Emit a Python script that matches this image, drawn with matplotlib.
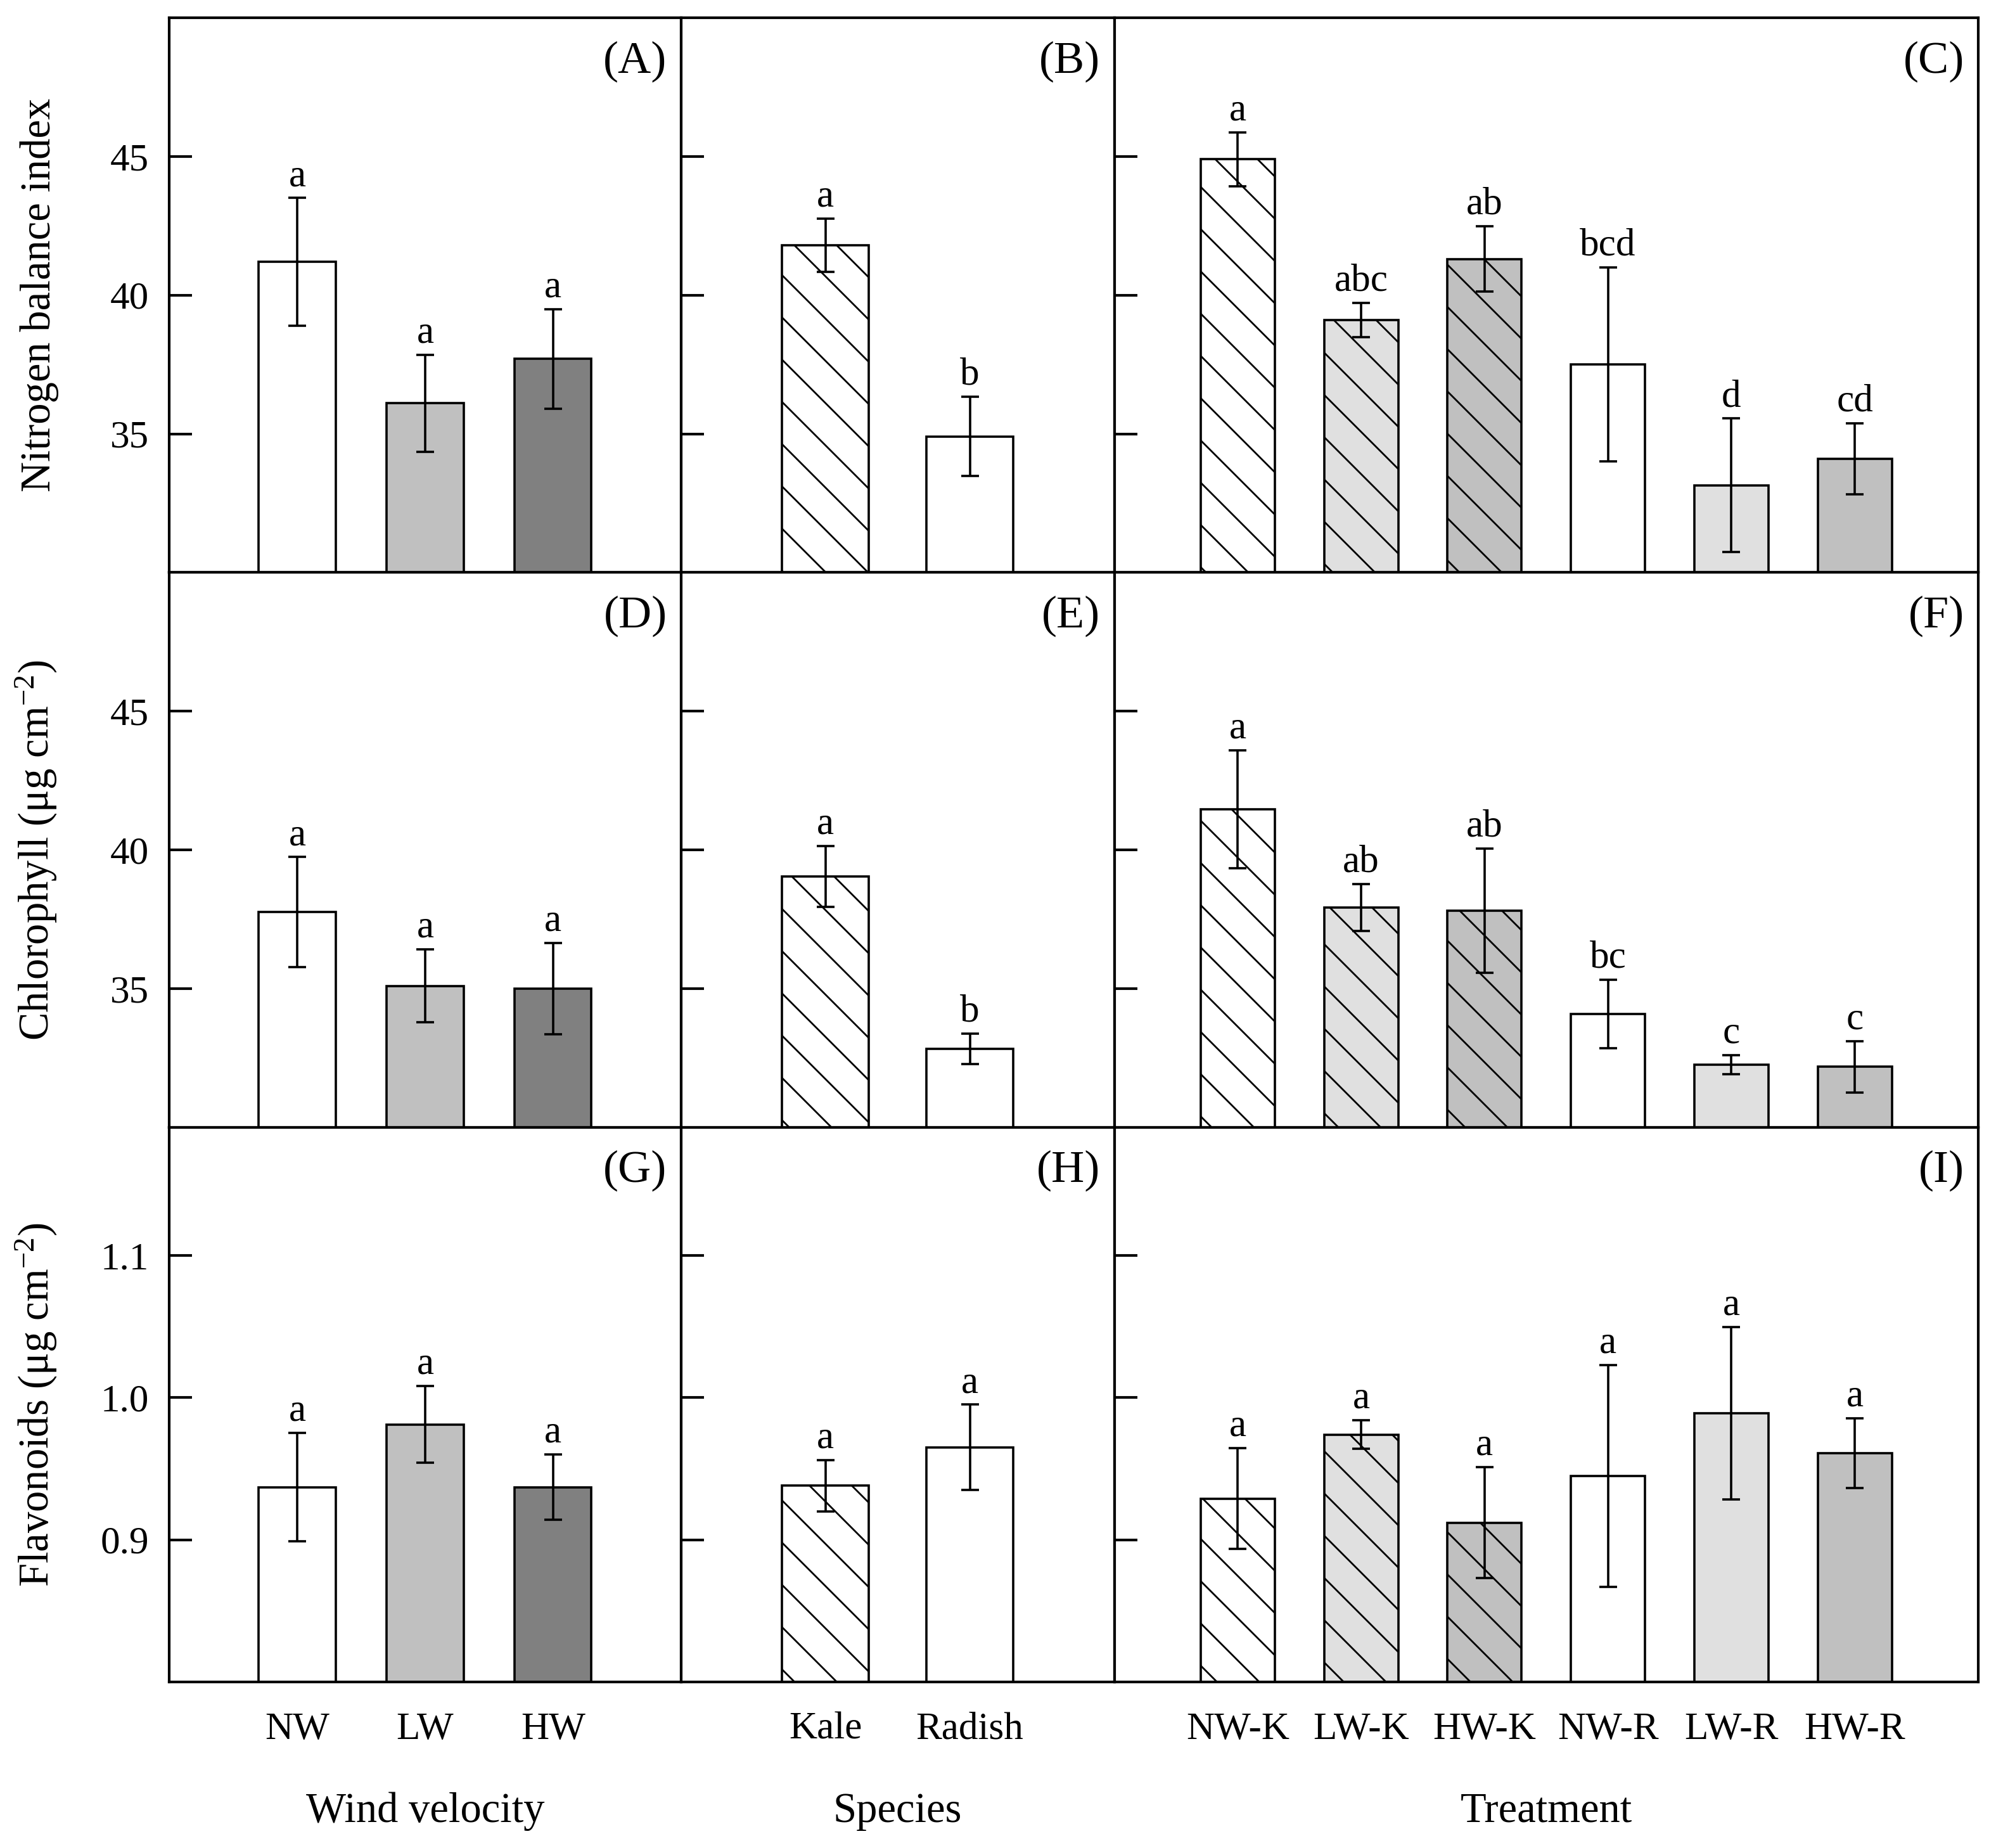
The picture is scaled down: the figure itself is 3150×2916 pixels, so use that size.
import numpy as np
import matplotlib
matplotlib.use('Agg')
import matplotlib.pyplot as plt

# fonts: Times-like serif everywhere
plt.rcParams['font.family'] = ['Liberation Serif', 'DejaVu Serif']
plt.rcParams['mathtext.fontset'] = 'custom'
plt.rcParams['mathtext.rm'] = 'Liberation Serif'
plt.rcParams['mathtext.it'] = 'Liberation Serif:italic'
plt.rcParams['hatch.linewidth'] = 0.5
plt.rcParams['hatch.color'] = 'black'

# ---- categories ----
wind_labels = ['NW', 'LW', 'HW']
species_labels = ['Kale', 'Radish']
treat_labels = ['NW-K', 'LW-K', 'HW-K', 'NW-R', 'LW-R', 'HW-R']

# ---- nitrogen balance index ----
nbi_wind = [41.2, 36.1, 37.7]
nbi_wind_err = [2.3, 1.75, 1.8]
nbi_wind_let = ['a', 'a', 'a']
nbi_species = [41.8, 34.9]
nbi_species_err = [0.96, 1.43]
nbi_species_let = ['a', 'b']
nbi_treat = [44.9, 39.1, 41.3, 37.5, 33.15, 34.1]
nbi_treat_err = [0.97, 0.62, 1.18, 3.5, 2.4, 1.28]
nbi_treat_let = ['a', 'abc', 'ab', 'bcd', 'd', 'cd']

# ---- chlorophyll ----
chl_wind = [37.76, 35.1, 35.0]
chl_wind_err = [1.98, 1.32, 1.65]
chl_wind_let = ['a', 'a', 'a']
chl_species = [39.05, 32.83]
chl_species_err = [1.1, 0.55]
chl_species_let = ['a', 'b']
chl_treat = [41.47, 37.92, 37.81, 34.08, 32.25, 32.18]
chl_treat_err = [2.12, 0.84, 2.23, 1.24, 0.34, 0.93]
chl_treat_let = ['a', 'ab', 'ab', 'bc', 'c', 'c']

# ---- flavonoids ----
flav_wind = [0.937, 0.981, 0.937]
flav_wind_err = [0.038, 0.027, 0.023]
flav_wind_let = ['a', 'a', 'a']
flav_species = [0.938, 0.965]
flav_species_err = [0.018, 0.030]
flav_species_let = ['a', 'a']
flav_treat = [0.929, 0.974, 0.912, 0.945, 0.989, 0.961]
flav_treat_err = [0.0355, 0.010, 0.039, 0.078, 0.0605, 0.0245]
flav_treat_let = ['a', 'a', 'a', 'a', 'a', 'a']

panel_tags = ['(A)', '(B)', '(C)', '(D)', '(E)', '(F)', '(G)', '(H)', '(I)']
col_xlabels = ['Wind velocity', 'Species', 'Treatment']
row_ylabels = ['Nitrogen balance index',
               'Chlorophyll (μg cm$^{-2}$)',
               'Flavonoids (μg cm$^{-2}$)']

# fills / hatches per column
col_labels = [wind_labels, species_labels, treat_labels]
col_fills = [['white', '#c0c0c0', '#808080'],
             ['white', 'white'],
             ['white', '#e0e0e0', '#c0c0c0', 'white', '#e0e0e0', '#c0c0c0']]
col_hatch = [['', '', ''],
             ['\\\\', ''],
             ['\\\\', '\\\\', '\\\\', '', '', '']]

rows = [
    dict(ylim=(30, 50), ticks=[35, 40, 45], fmt='{:.0f}',
         data=[(nbi_wind, nbi_wind_err, nbi_wind_let),
               (nbi_species, nbi_species_err, nbi_species_let),
               (nbi_treat, nbi_treat_err, nbi_treat_let)]),
    dict(ylim=(30, 50), ticks=[35, 40, 45], fmt='{:.0f}',
         data=[(chl_wind, chl_wind_err, chl_wind_let),
               (chl_species, chl_species_err, chl_species_let),
               (chl_treat, chl_treat_err, chl_treat_let)]),
    dict(ylim=(0.8, 1.19), ticks=[0.9, 1.0, 1.1], fmt='{:.1f}',
         data=[(flav_wind, flav_wind_err, flav_wind_let),
               (flav_species, flav_species_err, flav_species_let),
               (flav_treat, flav_treat_err, flav_treat_let)]),
]

fig, axes = plt.subplots(3, 3, figsize=(7.875, 7.29), dpi=400,
                         gridspec_kw=dict(width_ratios=[808, 684, 1364]))
fig.subplots_adjust(left=0.0848, right=0.9911, top=0.9904, bottom=0.0898,
                    wspace=0, hspace=0)

for r, row in enumerate(rows):
    for c in range(3):
        ax = axes[r, c]
        vals, errs, lets = row['data'][c]
        x = np.arange(len(vals))
        ax.bar(x, vals, width=0.6, color=col_fills[c], edgecolor='black',
               linewidth=0.65, hatch=col_hatch[c], zorder=2)
        ax.errorbar(x, vals, yerr=errs, fmt='none', ecolor='black',
                    elinewidth=0.65, capsize=2.6, capthick=0.65, zorder=3)
        for xi, v, e, t in zip(x, vals, errs, lets):
            ax.annotate(t, xy=(xi, v + e), xytext=(0, 3.5),
                        textcoords='offset points', ha='center',
                        va='baseline', fontsize=11)

        ax.set_xlim(-1, len(vals))
        ax.set_ylim(*row['ylim'])
        ax.set_yticks(row['ticks'])
        ax.set_yticklabels([row['fmt'].format(t) for t in row['ticks']])
        ax.tick_params(axis='y', direction='in', length=6.4, width=0.75,
                       pad=5.8, labelsize=11, labelleft=(c == 0))
        ax.tick_params(axis='x', length=0, pad=8.5, labelsize=11)
        for sp in ax.spines.values():
            sp.set_linewidth(0.75)

        if r == 2:
            ax.set_xticks(x)
            ax.set_xticklabels(col_labels[c])
            ax.set_xlabel(col_xlabels[c], fontsize=12, labelpad=12.8)
        else:
            ax.set_xticks([])

        ax.annotate(panel_tags[r * 3 + c], xy=(1, 1), xycoords='axes fraction',
                    xytext=(-4, -6.5), textcoords='offset points',
                    ha='right', va='top', fontsize=13)

    axes[r, 0].set_ylabel(row_ylabels[r], fontsize=12)
    axes[r, 0].yaxis.set_label_coords(-0.215, 0.5)

fig.savefig('out.png', dpi=400)
